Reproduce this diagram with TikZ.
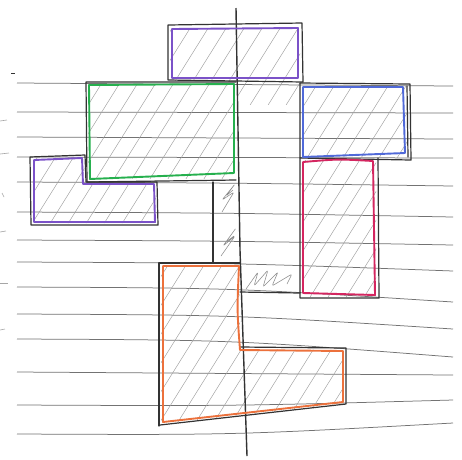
\documentclass[tikz,border=0pt]{standalone}
\begin{document}
\begin{tikzpicture}[x=1pt,y=-1pt,
  rule/.style={draw=black!55, line width=0.75pt},
  ink/.style={draw=black!80, line width=1.2pt, line join=round, line cap=round},
  hatchline/.style={draw=black!38, line width=0.45pt},
  scribble/.style={draw=black!45, line width=0.55pt, line join=round, rounded corners=2pt},
  tick/.style={draw=black!35, line width=0.6pt},
  pen/.style={line width=1.9pt, line join=round}]
\definecolor{cpurple}{HTML}{7B52C8}
\definecolor{cgreen}{HTML}{26B04E}
\definecolor{cblue}{HTML}{5069D8}
\definecolor{cred}{HTML}{D42660}
\definecolor{corange}{HTML}{EC713C}
\newcommand\hatchin[1]{\begin{scope}\clip #1;
  \foreach \s in {-320,-302,...,470}{\draw[hatchline] (\s,470) -- ++(300,-480);}
  \end{scope}}
\useasboundingbox[fill=white] (0,0) rectangle (462,459);
% ruled lines
\foreach \l/\r in {83/86,112/113,137/139,157/158,182/186,212/217,240/245,262/271,287/302,314/329,339/357,372/375,405/400,434/423}{
  \draw[rule] (17,\l) .. controls (235,\l+1) .. (453,\r);}
% edge ticks
\draw[draw=black!80, line width=0.8pt] (11,73) -- (15,73);
\draw[tick] (0,121) -- (7,120);
\draw[tick] (0,154) -- (9,153);
\draw[tick] (2,193) -- (4,197);
\draw[tick] (0,232) -- (6,231);
\draw[tick] (0,283) -- (8,283);
\draw[tick] (0,330) -- (5,329);
% hatching
\hatchin{(170,28) rectangle (300,80)}
\hatchin{(88,84) rectangle (235,178)}
\hatchin{(33,158) -- (84,157) -- (85,183) -- (156,183) -- (156,223) -- (33,223) -- cycle}
\hatchin{(238,82) rectangle (300,104)}
\hatchin{(302,86) rectangle (408,157)}
\hatchin{(302,160) rectangle (376,296)}
\hatchin{(161,265) -- (239,265) -- (241,349) -- (344,350) -- (344,404) -- (161,424) -- cycle}
% scribbles
\draw[scribble] (222,212) -- (234,192) -- (222,200) -- (235,184) -- (226,196) -- (233,190);
\draw[scribble] (221,256) -- (235,236) -- (223,246) -- (236,228) -- (226,242) -- (234,236);
\draw[scribble] (246,289) -- (258,272) -- (254,286) -- (268,270) -- (263,287) -- (278,272) -- (272,286) -- (292,274) -- (287,284);
% main vertical line
\draw[draw=black!80, line width=1.4pt] (236,8) -- (240,250) -- (247,456);
% top purple
\draw[ink] (168,25) -- (302,23) -- (303,82) -- (168,80) -- cycle;
\draw[pen, cpurple] (172,29) -- (298,28) -- (298,78) -- (172,78) -- cycle;
% green
\draw[ink] (236,82) -- (86,82) -- (87,182) -- (236,180);
\draw[pen, cgreen] (89,85) -- (234,84) -- (234,173) -- (90,179) -- cycle;
% left purple L
\draw[ink] (30,157) -- (85,155) -- (86,182) -- (157,182) -- (158,225) -- (31,225) -- cycle;
\draw[pen, cpurple] (34,160) -- (82,158) -- (83,184) -- (154,184) -- (155,222) -- (34,222) -- cycle;
% central column and strip
\draw[ink] (213,182) -- (213,263);
\draw[ink] (240,292) -- (300,293);
% blue
\draw[ink] (300,83) -- (410,84) -- (411,160) -- (300,158) -- cycle;
\draw[ink] (407,86) -- (408,157);
\draw[pen, cblue] (303,87) -- (403,87) -- (405,153) -- (303,157) -- cycle;
% red
\draw[ink] (300,158) -- (300,298) -- (379,298) -- (378,158);
\draw[pen, cred] (303,162) .. controls (338,159) .. (373,161) -- (375,295) -- (303,293) -- cycle;
% orange
\draw[ink] (240,263) -- (159,263) -- (159,426);
\draw[ink] (160,425) -- (346,404) -- (346,348) -- (240,347);
\draw[pen, corange] (163,266) -- (239,266) .. controls (237,310) .. (240,350) -- (343,351) -- (343,402) -- (172,421) -- (163,422) -- cycle;
\end{tikzpicture}
\end{document}
